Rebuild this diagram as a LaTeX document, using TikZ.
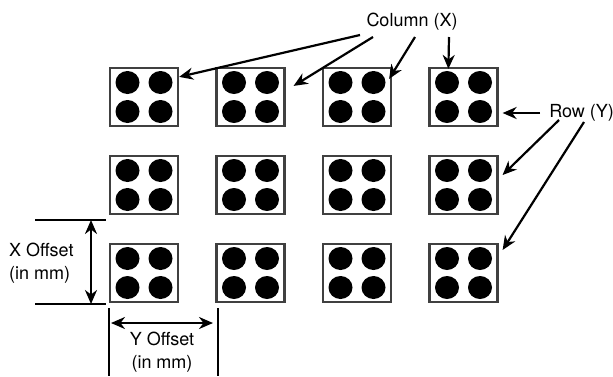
\documentclass[tikz,border=0pt]{standalone}
\usepackage{fontspec}
\setmainfont{TeX Gyre Heros}
\usepackage{tikz}
\usetikzlibrary{positioning,arrows.meta}

\begin{document}
\begin{tikzpicture}[x=1pt, y=-1pt, line width=2.2pt,
  cell/.style={draw=black!75, fill=white, line width=2.2pt, minimum width=68pt, minimum height=58pt, inner sep=0pt},
  arr/.style={-{Stealth[length=14pt,width=12pt,inset=4.5pt]}},
  darr/.style={{Stealth[length=14pt,width=12pt,inset=4.5pt]}-{Stealth[length=14pt,width=12pt,inset=4.5pt]}},
  lbl/.style={font=\fontsize{18}{22.5}\selectfont, inner sep=1pt}]
\useasboundingbox (0,0) rectangle (613,376);
% grid of cells with four dots each
\foreach \c in {1,...,4}
  \foreach \r in {1,2,3} {
    \node[cell] (b\r\c) at ({144+106.5*(\c-1)},{97+88*(\r-1)}) {};
    \foreach \dx/\dy in {-16.5/-14.5, 16.5/-14.5, -16.5/14.5, 16.5/14.5}
      \fill (b\r\c) ++(\dx,\dy) ellipse [x radius=12, y radius=11.5];
  }
% labels
\node[lbl] (colx) at (412,22) {Column (X)};
\node[lbl, anchor=east] (rowy) at (616,113) {Row (Y)};
\draw[arr] (360,35) -- ([yshift=-10pt]b11.north east);
\draw[arr] (373,37) -- ([xshift=8pt,yshift=-19pt]b12.north east);
\draw[arr] (415,37) -- ([xshift=-3pt,yshift=-12pt]b13.north east);
\draw[arr] (449,37) -- ([xshift=20pt,yshift=-2pt]b14.north west);
\draw[arr] (540,113) -- ([xshift=4pt]b14.south east |- rowy);
\draw[arr] (559,120) -- ([xshift=4pt,yshift=10pt]b24.east);
\draw[arr] (584,122) -- ([xshift=4pt,yshift=3pt]b34.north east |- 0,253);
% X offset
\coordinate (xt) at (91,220);
\coordinate (xb) at (91,304);
\draw (35,220) -- (106,220);
\draw (35,304) -- (106,304);
\draw[darr] (xt) -- (xb);
\node[lbl, align=left, anchor=west] (xoff) at (7,263) {X Offset\\(in mm)};
% Y offset
\coordinate (yl) at (111,323);
\coordinate (yr) at (213,323);
\draw (109,308) -- (109,376);
\draw (218,308) -- (218,376);
\draw[darr] (yl) -- (yr);
\node[lbl, align=center] (yoff) at (162,352) {Y Offset\\(in mm)};
\end{tikzpicture}
\end{document}
